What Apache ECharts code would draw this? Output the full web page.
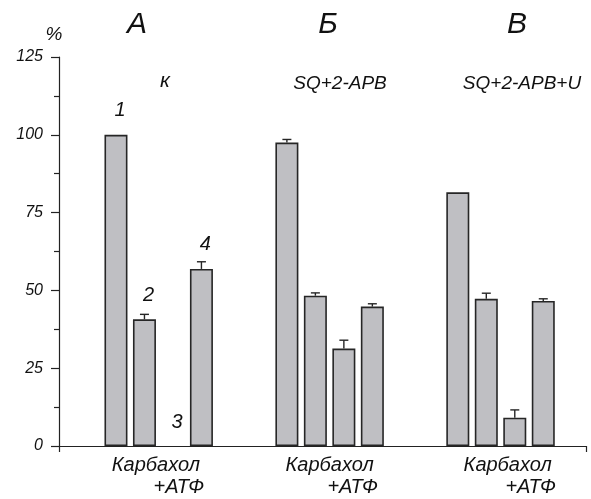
<!DOCTYPE html>
<html>
<head>
<meta charset="utf-8">
<script src="https://cdn.jsdelivr.net/npm/echarts@6/dist/echarts.min.js"></script>
<style>html,body{margin:0;padding:0;background:#fff}#c{width:591px;height:499px}</style>
</head>
<body>
<div id="c"></div>
<script>
// ---- data ----
const groupLetters = ['А', 'Б', 'В'];
const groupConditions = ['к', 'SQ+2-APB', 'SQ+2-APB+U'];
const categoryLine1 = 'Карбахол';
const categoryLine2 = '+АТФ';
const barNumbers = ['1', '2', '3', '4'];
const valuesA = [100, 40.7, 0, 56.9];
const errA = [0, 1.6, 0, 2.3];
const valuesB = [97.5, 48.3, 31.3, 44.8];
const errB = [1.0, 0.9, 2.7, 0.9];
const valuesC = [81.5, 47.3, 9.1, 46.6];
const errC = [0, 1.8, 2.5, 0.7];
const yTicks = [0, 25, 50, 75, 100, 125];

const groupValues = [valuesA, valuesB, valuesC];
const groupErrs = [errA, errB, errC];

const FONT = "'Liberation Sans', Arial, sans-serif";
const barData = [];
const errData = [];
groupValues.forEach((vals, g) => {
  vals.forEach((v, i) => {
    const x = g * 6 + 2 + i;
    const item = { value: [x, v] };
    if (g === 0) item.label = { show: true, formatter: barNumbers[i] };
    if (v === 0) item.itemStyle = { borderWidth: 0 };
    barData.push(item);
    if (groupErrs[g][i] > 0) errData.push([x, v, v + groupErrs[g][i]]);
  });
});

function txt(text, x, y, size) {
  return { type: 'text', x: x, y: y, z: 10,
    style: { text: text, x: 0, y: 0, align: 'center', verticalAlign: 'middle',
      font: 'italic ' + size + 'px ' + FONT, fill: '#111' } };
}
const graphics = [];
const letterX = [137, 328, 517];
const condX = [165, 340, 522];
groupLetters.forEach((t, g) => {
  graphics.push(txt(t, letterX[g], 25, 30));
  graphics.push(txt(groupConditions[g], condX[g], g === 0 ? 81 : 84, g === 0 ? 21 : 19));
});
graphics.push(txt('%', 54, 35, 19));

const chart = echarts.init(document.getElementById('c'), null, { renderer: 'canvas' });
const labelPos = [3.4, 9.5, 15.75];
chart.setOption({
  animation: false,
  backgroundColor: '#fff',
  graphic: graphics,
  grid: { left: 59, right: 5, top: 57, bottom: 53, containLabel: false },
  xAxis: {
    type: 'value', min: 0, max: 18.5,
    splitLine: { show: false },
    axisLine: { show: true, onZero: false, lineStyle: { color: '#222', width: 1.2 } },
    axisTick: { show: true, customValues: [0, 18.5], length: 6, lineStyle: { color: '#222', width: 1.2 } },
    axisLabel: {
      show: true, customValues: labelPos, margin: 8,
      formatter: () => '{a|' + categoryLine1 + '}\n{b|' + categoryLine2 + '}',
      rich: {
        a: { fontFamily: FONT, fontStyle: 'italic', fontSize: 20, color: '#111', lineHeight: 22 },
        b: { fontFamily: FONT, fontStyle: 'italic', fontSize: 20, color: '#111', lineHeight: 22, padding: [0, 0, 0, 46] }
      }
    }
  },
  yAxis: {
    type: 'value', min: yTicks[0], max: yTicks[yTicks.length - 1], interval: 25,
    splitLine: { show: false },
    axisLine: { show: true, lineStyle: { color: '#222', width: 1.2 } },
    axisTick: { show: true, length: 8, lineStyle: { color: '#222', width: 1.2 } },
    minorTick: { show: true, splitNumber: 2, length: 5, lineStyle: { color: '#222', width: 1.2 } },
    axisLabel: { margin: 16, fontFamily: FONT, fontStyle: 'italic', fontSize: 16, color: '#111' }
  },
  series: [
    {
      type: 'bar', data: barData, barWidth: 23,
      itemStyle: { color: '#bfbfc3', borderColor: '#262626', borderWidth: 1.6 },
      label: { show: false, position: 'top', distance: 14, offset: [4, 0],
        fontFamily: FONT, fontStyle: 'italic', fontSize: 20, color: '#111' },
      z: 2
    },
    {
      type: 'custom', data: errData, z: 3,
      renderItem: (params, api) => {
        const x = api.value(0);
        const lo = api.coord([x, api.value(1)]);
        const hi = api.coord([x, api.value(2)]);
        const half = 4.5;
        const style = { stroke: '#262626', lineWidth: 1.4 };
        return { type: 'group', children: [
          { type: 'line', shape: { x1: lo[0], y1: lo[1], x2: hi[0], y2: hi[1] }, style },
          { type: 'line', shape: { x1: hi[0] - half, y1: hi[1], x2: hi[0] + half, y2: hi[1] }, style }
        ] };
      }
    }
  ]
});
</script>
</body>
</html>
